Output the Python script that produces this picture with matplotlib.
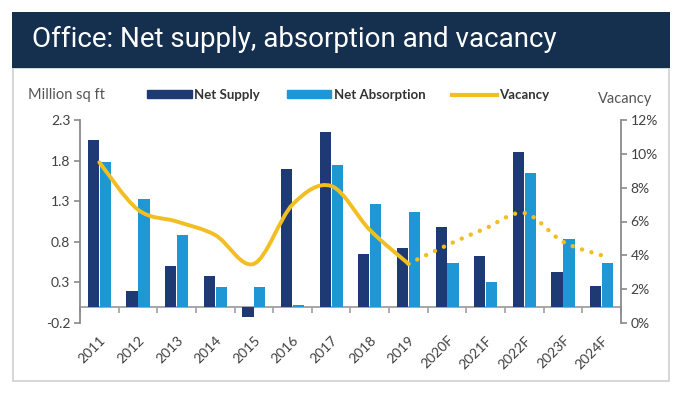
import matplotlib
matplotlib.use("Agg")
import matplotlib.pyplot as plt
import numpy as np
from matplotlib.path import Path
from matplotlib.patches import PathPatch, Rectangle
from matplotlib.lines import Line2D

years = ["2011", "2012", "2013", "2014", "2015", "2016", "2017", "2018", "2019",
         "2020F", "2021F", "2022F", "2023F", "2024F"]
net_supply = [2.05, 0.19, 0.50, 0.38, -0.12, 1.70, 2.15, 0.65, 0.72, 0.98, 0.63, 1.91, 0.43, 0.25]
net_absorption = [1.78, 1.33, 0.88, 0.24, 0.24, 0.02, 1.74, 1.27, 1.17, 0.54, 0.31, 1.65, 0.83, 0.54]
vacancy = [9.5, 6.7, 6.0, 5.2, 3.5, 7.0, 8.1, 5.5, 3.5, 4.6, 5.6, 6.5, 4.8, 4.0]
n_actual = 9  # 2011-2019 solid, forecast dotted

NAVY = "#1d3a74"
BLUE = "#1f97d5"
GOLD = "#f2be22"
GREY = "#8a8a8a"
TXT = "#404040"

plt.rcParams['font.family'] = ['Lato', 'DejaVu Sans']


def smooth_path(xs, ys):
    # catmull-rom style bezier through the points
    pts = np.column_stack([xs, ys]).astype(float)
    verts = [pts[0]]
    codes = [Path.MOVETO]
    for i in range(len(pts) - 1):
        p0 = pts[i - 1] if i > 0 else pts[i]
        p1 = pts[i]
        p2 = pts[i + 1]
        p3 = pts[i + 2] if i + 2 < len(pts) else pts[i + 1]
        verts += [p1 + (p2 - p0) / 6, p2 - (p3 - p1) / 6, p2]
        codes += [Path.CURVE4] * 3
    return Path(verts, codes)


fig = plt.figure(figsize=(6.81, 3.98), dpi=100)

# title banner and frame
fig.patches.append(Rectangle((13 / 681, 1 - 381 / 398), 656 / 681, 313 / 398, transform=fig.transFigure,
                             facecolor="white", edgecolor="#d0d0d0", lw=1.2, zorder=0))
fig.patches.append(Rectangle((12 / 681, 1 - 68 / 398), 658 / 681, 56 / 398, transform=fig.transFigure,
                             facecolor="#15304f", edgecolor="none", zorder=1))
fig.text(32 / 681, 1 - 39 / 398, "Office: Net supply, absorption and vacancy", color="white",
         fontsize=20, va="center", ha="left", family=['Roboto', 'DejaVu Sans'])

ax = fig.add_axes([80 / 681, 1 - 323 / 398, 541 / 681, 203 / 398])
ax2 = ax.twinx()
ax.set_zorder(2)
ax2.set_zorder(3)
ax.patch.set_visible(False)

x = np.arange(len(years))
w = 0.29
ax.bar(x - w / 2 - 0.01, net_supply, w, color=NAVY, zorder=2)
ax.bar(x + w / 2 + 0.01, net_absorption, w, color=BLUE, zorder=2)

ax.set_xlim(-0.5, len(years) - 0.5)
ax.set_ylim(-0.2, 2.3)
ax.set_yticks([-0.2, 0.3, 0.8, 1.3, 1.8, 2.3])
ax.set_yticklabels(["-0.2", "0.3", "0.8", "1.3", "1.8", "2.3"])
ax.set_xticks(x)
ax.set_xticklabels(years, rotation=45, ha="right", va="top", rotation_mode="anchor")
ax.tick_params(axis="x", length=0, pad=8, labelsize=10, colors=TXT)
ax.tick_params(axis="y", length=4, width=1.2, color=GREY, labelsize=10, colors=TXT, pad=3)

for s in ["top", "bottom", "right"]:
    ax.spines[s].set_visible(False)
ax.spines["left"].set_color(GREY)
ax.spines["left"].set_linewidth(1.3)

# zero line with category ticks
zero = ax.secondary_xaxis(0.2 / 2.5)
zero.set_xticks(np.arange(-0.5, len(years), 1.0))
zero.set_xticklabels([])
zero.tick_params(length=4, width=1.2, color="#a0a0a0")
zero.spines["bottom"].set_color("#a0a0a0")
zero.spines["bottom"].set_linewidth(1.3)

# vacancy on right axis
ax2.set_ylim(0, 12)
ax2.set_yticks([0, 2, 4, 6, 8, 10, 12])
ax2.set_yticklabels([f"{v}%" for v in [0, 2, 4, 6, 8, 10, 12]])
ax2.tick_params(axis="y", length=4, width=1.2, color=GREY, labelsize=10, colors=TXT, pad=3)
for s in ["top", "bottom", "left"]:
    ax2.spines[s].set_visible(False)
ax2.spines["right"].set_color(GREY)
ax2.spines["right"].set_linewidth(1.3)

solid = PathPatch(smooth_path(x[:n_actual], vacancy[:n_actual]), fill=False, edgecolor=GOLD,
                  lw=2.8, transform=ax2.transData, zorder=4)
solid.set_capstyle("round")
ax2.add_patch(solid)
dotted = PathPatch(smooth_path(x[n_actual - 1:], vacancy[n_actual - 1:]), fill=False, edgecolor=GOLD,
                   lw=3.2, linestyle=(0, (0.01, 2.2)), transform=ax2.transData, zorder=4)
dotted.set_capstyle("round")
ax2.add_patch(dotted)

# header labels and legend
fig.text(28 / 681, 1 - 95 / 398, "Million sq ft", fontsize=10.5, color="#555555", va="center")
fig.text(598 / 681, 1 - 99 / 398, "Vacancy", fontsize=10.5, color="#555555", va="center")
handles = [Rectangle((0, 0), 1, 1, color=NAVY), Rectangle((0, 0), 1, 1, color=BLUE),
           Line2D([], [], color=GOLD, lw=3)]
leg = fig.legend(handles, ["Net Supply", "Net Absorption", "Vacancy"], ncol=3, frameon=False,
                 loc="center left", bbox_to_anchor=(135 / 681, 1 - 95 / 398), handlelength=3.4,
                 handleheight=0.55, handletextpad=0.2, columnspacing=2.0,
                 prop={"weight": "bold", "size": 9.5})
for t in leg.get_texts():
    t.set_color("#333333")

fig.savefig("out.png", dpi=100)
